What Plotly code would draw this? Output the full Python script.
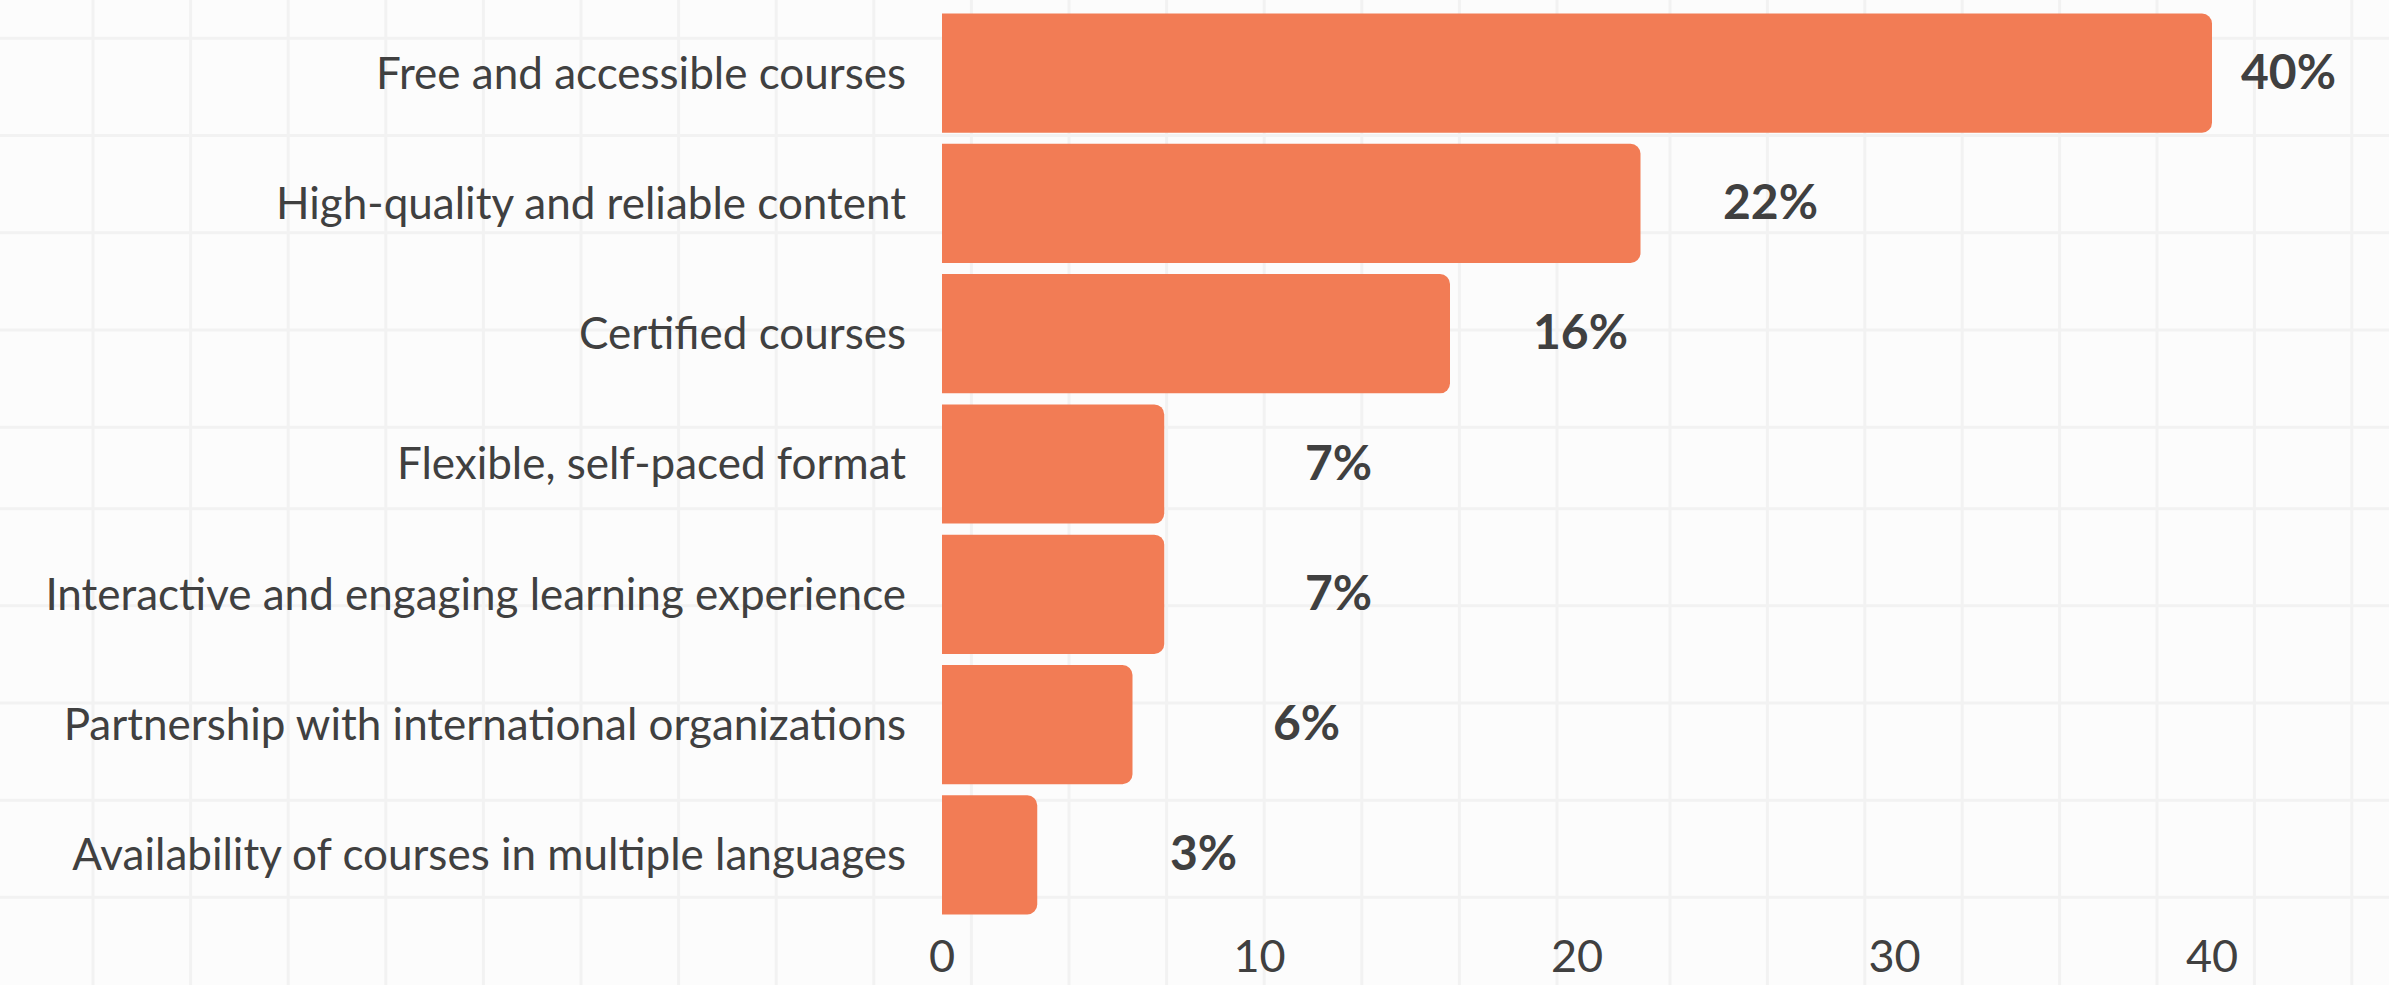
import plotly.graph_objects as go

categories = [
    "Free and accessible courses",
    "High-quality and reliable content",
    "Certified courses",
    "Flexible, self-paced format",
    "Interactive and engaging learning experience",
    "Partnership with international organizations",
    "Availability of courses in multiple languages",
]
values = [40, 22, 16, 7, 7, 6, 3]
value_labels = ["40%", "22%", "16%", "7%", "7%", "6%", "3%"]
x_ticks = [0, 10, 20, 30, 40]

# styling
W, H = 2389, 985
ML, MR, MT, MB = 942, 50, 8, 65
BAR_COLOR = "#F27C55"
TEXT_COLOR = "#404040"
BG = "#fcfcfc"
GRID = "#f2f2f2"
FONT = "Lato"
label_shift_px = [76, 130, 130, 174, 174, 174, 166]  # label centre offset from bar end

fig = go.Figure()
fig.add_trace(go.Bar(
    y=categories, x=values, orientation="h",
    marker=dict(color=BAR_COLOR, cornerradius=10, line=dict(width=0)),
    hoverinfo="skip",
))

for c, v, t, s in zip(categories, values, value_labels, label_shift_px):
    fig.add_annotation(x=v, y=c, xref="x", yref="y", text=t, showarrow=False,
                       xanchor="center", yanchor="middle", xshift=s, yshift=3,
                       font=dict(family=FONT, size=48, color=TEXT_COLOR, weight="bold"))

# background grid pattern (decorative, in pixels -> paper)
pw = W - ML - MR
ph = H - MT - MB
def px2x(px):
    return (px - ML) / pw
def py2y(py):
    return (H - MB - py) / ph

shapes = []
vlines = [93 + i * 97.6 for i in range(16)] + [1670 + i * 97.4 for i in range(8)]
hlines = [38.3 + i * 97.25 for i in range(5)] + [508.7 + i * 97.15 for i in range(5)]
for vx in vlines:
    shapes.append(dict(type="line", xref="paper", yref="paper", x0=px2x(vx), x1=px2x(vx),
                       y0=py2y(0), y1=py2y(H), line=dict(color=GRID, width=3), layer="below"))
for hy in hlines:
    shapes.append(dict(type="line", xref="paper", yref="paper", x0=px2x(0), x1=px2x(W),
                       y0=py2y(hy), y1=py2y(hy), line=dict(color=GRID, width=3), layer="below"))

fig.update_layout(
    width=W, height=H,
    margin=dict(l=ML, r=MR, t=MT, b=MB, autoexpand=False),
    paper_bgcolor=BG, plot_bgcolor="rgba(0,0,0,0)",
    bargap=0.085, showlegend=False, shapes=shapes,
    font=dict(family=FONT, color=TEXT_COLOR),
)
fig.update_xaxes(range=[0, 44], tickvals=x_ticks, showgrid=False, zeroline=False,
                 showline=False, ticks="", ticklabelstandoff=6,
                 tickfont=dict(family=FONT, size=45, color=TEXT_COLOR))
fig.update_yaxes(autorange="reversed", showgrid=False, zeroline=False, showline=False,
                 ticks="", ticklabelstandoff=35,
                 tickfont=dict(family=FONT, size=44, color=TEXT_COLOR))

fig.write_html(
    "out.html",
    config={"displayModeBar": False},
    post_script="document.body.style.margin='0';document.body.style.overflow='hidden';"
                "document.body.style.background='" + BG + "';",
)
